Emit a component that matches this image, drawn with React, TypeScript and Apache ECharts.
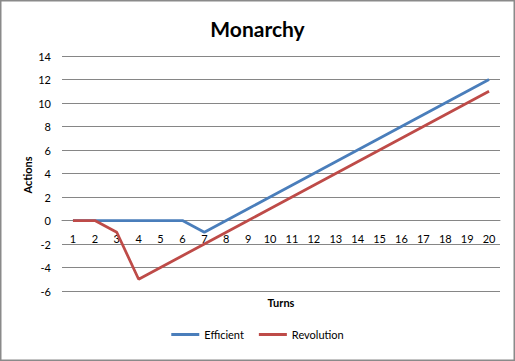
import React, { useEffect, useRef } from "react";
import * as echarts from "echarts";

const turns = ["1","2","3","4","5","6","7","8","9","10","11","12","13","14","15","16","17","18","19","20"];
const efficient = [0,0,0,0,0,0,-1,0,1,2,3,4,5,6,7,8,9,10,11,12];
const revolution = [0,0,-1,-5,-4,-3,-2,-1,0,1,2,3,4,5,6,7,8,9,10,11];
const seriesNames = ["Efficient", "Revolution"];
const FONT = "Lato, 'Open Sans', sans-serif";

export default function App() {
  const ref = useRef<HTMLDivElement>(null);
  useEffect(() => {
    document.body.style.margin = "0";
    const chart = echarts.init(ref.current!, null, { renderer: "svg" });
    chart.setOption({
      animation: false,
      backgroundColor: "#ffffff",
      textStyle: { fontFamily: FONT },
      title: {
        text: "Monarchy",
        left: "center",
        top: 13,
        textStyle: { fontSize: 21, fontWeight: "bold", color: "#000", fontFamily: FONT },
      },
      grid: { left: 62, right: 15, top: 56, bottom: 70, containLabel: false },
      legend: {
        data: seriesNames,
        bottom: 16,
        left: "center",
        icon: "rect",
        itemWidth: 28,
        itemHeight: 3,
        itemGap: 15,
        textStyle: { fontSize: 11, color: "#000", fontFamily: FONT },
      },
      xAxis: {
        type: "category",
        data: turns,
        position: "bottom",
        offset: -70.5,
        boundaryGap: true,
        axisLine: { show: true, onZero: false, lineStyle: { color: "#868686", width: 1 } },
        axisTick: { show: false },
        axisLabel: { interval: 0, fontSize: 11, color: "#000", margin: 12, fontFamily: FONT },
      },
      yAxis: {
        type: "value",
        min: -6,
        max: 14,
        interval: 2,
        axisLine: { show: false },
        axisTick: { show: false },
        axisLabel: { fontSize: 11, color: "#000", margin: 11, fontFamily: FONT },
        splitLine: { lineStyle: { color: "#868686", width: 1 } },
      },
      series: [
        {
          name: seriesNames[0],
          type: "line",
          data: efficient,
          symbol: "none",
          color: "#4A7EBB",
          lineStyle: { width: 2.75, color: "#4A7EBB" },
        },
        {
          name: seriesNames[1],
          type: "line",
          data: revolution,
          symbol: "none",
          color: "#BE4B48",
          lineStyle: { width: 2.75, color: "#BE4B48" },
        },
      ],
      graphic: [
        {
          type: "rect",
          shape: { x: 0.75, y: 0.75, width: 513.5, height: 359.5 },
          style: { fill: "none", stroke: "#8a8a8a", lineWidth: 1.5 },
          silent: true,
        },
        {
          type: "text",
          x: 281,
          y: 302,
          style: {
            text: "Turns",
            fontSize: 11,
            fontWeight: "bold",
            fontFamily: FONT,
            fill: "#000",
            align: "center",
            verticalAlign: "middle",
          },
        },
        {
          type: "text",
          x: 27,
          y: 175,
          rotation: Math.PI / 2,
          style: {
            text: "Actions",
            fontSize: 11,
            fontWeight: "bold",
            fontFamily: FONT,
            fill: "#000",
            align: "center",
            verticalAlign: "middle",
          },
        },
      ],
    });
    return () => chart.dispose();
  }, []);
  return <div ref={ref} style={{ width: 515, height: 361 }} />;
}
